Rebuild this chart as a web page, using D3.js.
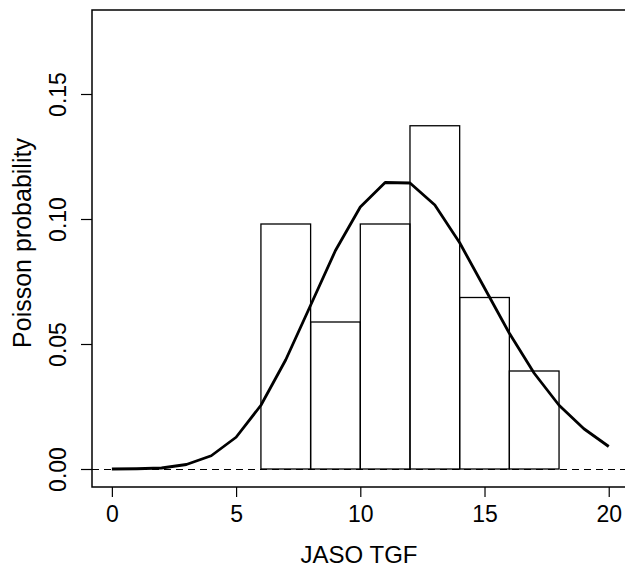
<!DOCTYPE html>
<html>
<head>
<meta charset="utf-8">
<script src="https://cdn.jsdelivr.net/npm/d3@7"></script>
<style>
	html, body { margin: 0; padding: 0; background: #fff; }
	svg { display: block; font-family: 'Liberation Sans', Arial, sans-serif; }
</style>
</head>
<body>
<svg id="chart" width="625" height="568"></svg>
<script>
// histogram bins (bin width 2), density
const binStarts = [6, 8, 10, 12, 14, 16];
const binDensity = [0.098, 0.0588, 0.098, 0.1373, 0.0686, 0.0392];

// fitted Poisson probabilities at k = 0..20
const counts = [0, 1, 2, 3, 4, 5, 6, 7, 8, 9, 10, 11, 12, 13, 14, 15, 16, 17, 18, 19, 20];
const poissonProb = [0.0, 0.0001, 0.0004, 0.0018, 0.0053, 0.0127, 0.0255, 0.0437, 0.0655, 0.0874,
	0.1048, 0.1146, 0.1144, 0.1056, 0.0905, 0.0724, 0.0543, 0.0383, 0.0255, 0.0161, 0.009];

const xTicks = [0, 5, 10, 15, 20];
const yTicks = [0.0, 0.05, 0.1, 0.15];

const svg = d3.select('#chart');

const x = d3.scaleLinear().domain([-0.8, 20.8]).range([92, 628.6]);
const y = d3.scaleLinear().domain([-0.0072, 0.1836]).range([487, 10]);

// zero reference line
svg.append('line')
	.attr('x1', x(-0.8))
	.attr('x2', x(20.8))
	.attr('y1', Math.round(y(0)) + 0.5)
	.attr('y2', Math.round(y(0)) + 0.5)
	.attr('stroke', '#000')
	.attr('stroke-width', 1.3)
	.attr('stroke-dasharray', '7,5')
	.attr('shape-rendering', 'crispEdges');

// bars
svg.selectAll('.bar')
	.data(binStarts)
	.join('rect')
	.attr('class', 'bar')
	.attr('x', (d) => x(d))
	.attr('width', (d) => x(d + 2) - x(d))
	.attr('y', (d, i) => y(binDensity[i]))
	.attr('height', (d, i) => y(0) - y(binDensity[i]))
	.attr('fill', 'none')
	.attr('stroke', '#000')
	.attr('stroke-width', 1.3);

// poisson curve
const line = d3
	.line()
	.x((d) => x(d))
	.y((d, i) => y(poissonProb[i]));

svg.append('path')
	.attr('d', line(counts))
	.attr('fill', 'none')
	.attr('stroke', '#000')
	.attr('stroke-width', 2.8)
	.attr('stroke-linejoin', 'round');

// box
svg.append('path')
	.attr('d', `M${x(20.8)},${y(-0.0072)}H${x(-0.8)}V${y(0.1836)}H${x(20.8)}`)
	.attr('fill', 'none')
	.attr('stroke', '#000')
	.attr('stroke-width', 1.5);

// x axis
const xAxis = d3.axisBottom(x).tickValues(xTicks).tickSize(10).tickPadding(9).tickFormat(d3.format('d'));
const gx = svg.append('g').attr('transform', `translate(0,${y(-0.0072)})`).call(xAxis);
gx.select('.domain').remove();
gx.selectAll('line').attr('stroke-width', 1.2);
gx.selectAll('text').attr('font-size', 23).attr('font-family', 'Liberation Sans, Arial, sans-serif');

// y axis
const yAxis = d3.axisLeft(y).tickValues(yTicks).tickSize(11).tickPadding(0).tickFormat(d3.format('.2f'));
const gy = svg.append('g').attr('transform', `translate(${x(-0.8)},0)`).call(yAxis);
gy.select('.domain').remove();
gy.selectAll('line').attr('stroke-width', 1.2);
gy.selectAll('text')
	.attr('font-size', 23)
	.attr('font-family', 'Liberation Sans, Arial, sans-serif')
	.attr('x', null)
	.attr('dy', null)
	.attr('text-anchor', 'middle')
	.attr('transform', 'translate(-26,0) rotate(-90)')
	.attr('y', 0);

// axis titles
svg.append('text')
	.attr('x', 359)
	.attr('y', 563)
	.attr('text-anchor', 'middle')
	.attr('font-size', 24)
	.text('JASO TGF');

svg.append('text')
	.attr('transform', 'translate(31,243) rotate(-90)')
	.attr('text-anchor', 'middle')
	.attr('font-size', 25)
	.text('Poisson probability');
</script>
</body>
</html>
